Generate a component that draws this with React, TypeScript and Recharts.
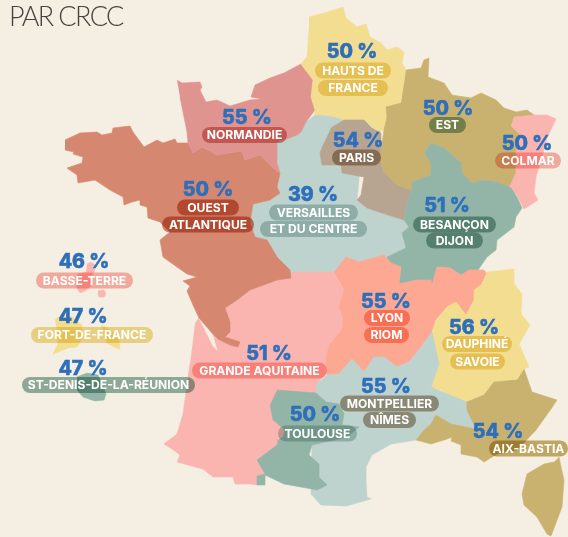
import { ReferenceArea, Scatter, ScatterChart, XAxis, YAxis } from "recharts"

type Pt = [number, number]

const WIDTH = 568
const HEIGHT = 537

const PAPER = "#f5eee2"
const PINK = "#fbb5b0"
const ROSE = "#e09490"
const TERRA = "#d68770"
const YELLOW = "#f2dd90"
const TAN = "#c9b26f"
const TAUPE = "#b8a591"
const TEAL = "#93b5a8"
const MIST = "#bed2ce"
const CORAL = "#fca892"

// region outlines in map units
const normandie: Pt[] = [[177,80],[182,83],[200,82],[202,87],[200,90],[206,102],[217,100],[230,106],[250,100],[262,99],[251,97],[255,85],[270,78],[284,73],[301,64],[313,80],[311,97],[315,110],[306,122],[301,132],[297,135],[284,140],[277,142],[277,163],[280,173],[272,167],[260,155],[245,160],[242,151],[217,155],[202,147],[193,153],[188,143],[187,132],[180,97]]
const ouest: Pt[] = [[65,140],[80,133],[97,132],[102,135],[112,133],[113,128],[130,126],[133,132],[144,147],[157,140],[163,143],[175,139],[177,143],[188,143],[193,153],[202,147],[217,155],[242,151],[245,160],[260,155],[272,167],[280,173],[277,187],[280,193],[270,200],[253,204],[250,223],[255,237],[267,240],[277,257],[290,270],[291,278],[277,280],[250,290],[237,300],[225,308],[230,322],[230,332],[225,337],[240,342],[238,347],[230,345],[218,339],[212,333],[199,318],[193,305],[187,291],[190,286],[183,281],[197,277],[187,274],[177,267],[163,257],[160,240],[170,232],[160,222],[148,218],[147,207],[140,205],[140,200],[132,202],[124,205],[123,197],[110,190],[95,180],[78,183],[77,175],[67,168],[82,163],[83,157],[73,154],[74,152],[65,150]]
const aquitaine: Pt[] = [[195,324],[199,318],[225,308],[250,285],[284,275],[294,272],[334,272],[344,290],[339,307],[343,317],[342,330],[329,345],[326,359],[329,370],[316,385],[316,394],[284,392],[270,405],[273,420],[285,430],[283,437],[278,440],[277,445],[257,460],[265,474],[257,476],[257,485],[250,484],[235,484],[233,477],[213,477],[203,469],[177,462],[180,455],[172,449],[164,444],[177,434],[183,414],[190,364]]
const gironde: Pt[] = [[199,319],[204,320],[213,336],[217,350],[213,346],[205,330]]
const versailles: Pt[] = [[277,142],[284,140],[297,135],[302,122],[306,122],[315,115],[324,115],[336,117],[344,120],[364,125],[357,200],[367,208],[394,217],[404,220],[409,227],[402,233],[406,248],[387,257],[391,270],[334,275],[290,278],[290,270],[277,257],[267,240],[255,237],[250,223],[253,204],[270,200],[280,193],[277,187],[280,173],[277,163]]
const hauts: Pt[] = [[309,17],[324,13],[343,7],[346,18],[357,27],[366,24],[370,37],[381,43],[387,50],[397,47],[404,52],[402,63],[406,70],[401,103],[386,107],[387,117],[384,130],[379,132],[364,120],[344,120],[336,117],[324,115],[315,115],[315,110],[311,97],[313,80],[301,64],[307,57],[309,30]]
const paris: Pt[] = [[331,128],[344,120],[364,120],[372,128],[381,133],[381,150],[381,163],[384,172],[397,185],[412,190],[407,203],[404,220],[394,217],[367,208],[357,200],[361,195],[364,177],[342,173],[341,165],[322,165],[320,153],[324,143]]
const est: Pt[] = [[406,70],[421,68],[424,60],[429,58],[428,77],[444,83],[452,95],[471,98],[481,93],[496,100],[504,108],[516,112],[527,110],[534,115],[532,122],[514,118],[511,126],[521,135],[516,153],[516,173],[511,188],[497,182],[484,180],[471,183],[462,172],[461,163],[444,148],[431,143],[424,153],[431,163],[431,175],[412,182],[412,190],[397,185],[384,172],[381,163],[381,150],[384,130],[387,117],[386,107],[401,103]]
const colmar: Pt[] = [[514,117],[534,115],[547,115],[556,119],[547,138],[542,157],[536,177],[534,193],[538,200],[524,209],[517,195],[509,188],[516,173],[516,153],[521,135],[511,126]]
const besancon: Pt[] = [[431,143],[444,148],[461,163],[462,172],[471,183],[484,180],[497,182],[511,188],[517,197],[522,208],[516,217],[514,227],[497,240],[496,250],[487,257],[478,270],[472,272],[461,275],[450,268],[437,267],[432,285],[417,280],[399,284],[401,267],[387,265],[387,257],[406,248],[402,233],[409,227],[404,220],[407,203],[412,190],[412,182],[431,175],[431,163],[424,153]]
const lyon: Pt[] = [[334,272],[336,270],[346,257],[359,262],[384,255],[391,263],[401,267],[399,284],[417,280],[431,280],[432,285],[437,267],[450,268],[461,275],[469,270],[484,270],[487,274],[481,285],[474,290],[474,300],[466,315],[456,302],[447,307],[436,320],[432,332],[421,347],[409,362],[397,367],[384,357],[374,357],[364,372],[352,359],[339,374],[327,375],[326,359],[329,345],[342,330],[343,317],[339,307],[344,290]]
const dauphine: Pt[] = [[487,272],[514,269],[514,284],[522,294],[521,314],[530,325],[519,344],[529,367],[524,369],[517,380],[494,382],[484,395],[467,402],[447,394],[441,390],[431,387],[439,364],[432,332],[436,320],[447,307],[456,302],[466,315],[474,300],[474,290],[481,285]]
const montpellier: Pt[] = [[316,385],[327,375],[339,374],[352,359],[364,372],[374,357],[384,357],[397,367],[409,362],[421,347],[432,332],[439,364],[431,387],[447,394],[467,402],[467,410],[476,429],[451,424],[436,415],[431,424],[424,430],[416,440],[391,444],[372,455],[366,467],[366,480],[367,497],[371,499],[346,506],[321,505],[311,494],[312,445],[316,393]]
const toulouse: Pt[] = [[277,390],[316,393],[326,402],[339,404],[344,414],[342,425],[359,427],[347,437],[312,445],[309,455],[319,464],[319,477],[327,485],[317,490],[312,489],[284,484],[265,475],[265,485],[257,485],[257,476],[265,474],[257,460],[277,445],[278,440],[283,437],[285,430],[273,420],[270,405]]
const aix: Pt[] = [[524,369],[532,392],[557,400],[551,409],[536,430],[517,450],[497,454],[484,462],[477,457],[461,454],[461,445],[451,441],[452,437],[447,439],[431,444],[416,440],[424,430],[431,424],[436,415],[451,424],[476,429],[467,410],[467,402],[484,395],[494,382],[517,380]]
const corse: Pt[] = [[559,457],[561,467],[564,480],[562,507],[551,536],[547,534],[537,517],[524,505],[522,494],[527,474],[544,464],[554,462]]
const basseTerre: Pt[] = [[87,264],[91,262],[95,265],[94,272],[92,276],[90,287],[85,291],[80,293],[77,288],[76,282],[78,274],[86,272]]
const basseTerreIsle: Pt[] = [[98,291],[104,290],[106,294],[104,297],[99,297],[98,294]]
const martiniqueWest: Pt[] = [[55,320],[62,314],[72,317],[82,325],[81,340],[77,347],[68,348],[53,354],[58,344],[57,330]]
const martiniqueEast: Pt[] = [[101,325],[107,328],[113,333],[119,340],[120,349],[114,347],[107,343],[104,335]]
const reunion: Pt[] = [[77,377],[87,373],[98,375],[106,394],[104,400],[95,401],[83,397],[77,390]]

const shapes: [Pt[], string][] = [
  [versailles, MIST], [aquitaine, PINK], [gironde, PAPER], [ouest, TERRA], [normandie, ROSE],
  [hauts, YELLOW], [paris, TAUPE], [est, TAN], [colmar, PINK], [besancon, TEAL], [lyon, CORAL],
  [dauphine, YELLOW], [montpellier, MIST], [toulouse, TEAL], [aix, TAN], [corse, TAN],
  [basseTerre, PINK], [basseTerreIsle, PINK],
  [martiniqueWest, YELLOW], [martiniqueEast, YELLOW], [reunion, TEAL],
]

// the rates
const rateLabels = ["55 %","50 %","50 %","50 %","54 %","39 %","50 %","51 %","46 %","47 %","47 %","51 %","55 %","56 %","55 %","50 %","54 %"]
const rateX = [247,208,352,448,358,313,527,447,84,83,83,269,386,474,386,315,498]
const rateY = [117,189,51,108,140,194,143,205,261,316,368,353,301,327,386,414,431]

// name tags: text, left, right, middle
const tagNames = ["NORMANDIE","OUEST","ATLANTIQUE","HAUTS DE","FRANCE","EST","COLMAR","PARIS","VERSAILLES","ET DU CENTRE","BESANÇON","DIJON","BASSE-TERRE","FORT-DE-FRANCE","ST-DENIS-DE-LA-RÉUNION","GRANDE AQUITAINE","LYON","RIOM","DAUPHINÉ","SAVOIE","MONTPELLIER","NÎMES","TOULOUSE","AIX-BASTIA"]
const tagLeft = [202,177,162,315,318,429,495,332,269,260,413,426,36,31,22,192,364,364,442,450,340,363,278,489]
const tagRight = [287,239,254,391,388,466,561,381,358,367,496,483,133,153,195,327,410,409,512,505,439,416,357,568]
const tagY = [135,207.5,224.5,70.5,88,125,160.5,157.5,212.5,229,224.5,240.5,280.5,335,385,370.5,318,335,344,361.5,403.5,420,433.5,448.5]
const tagColors = [ROSE,TERRA,TERRA,YELLOW,YELLOW,TEAL,PINK,TAUPE,MIST,MIST,TEAL,TEAL,PINK,YELLOW,TEAL,PINK,CORAL,CORAL,YELLOW,YELLOW,TAUPE,TAUPE,MIST,TAN]

const rates = rateLabels.map((label, i) => ({ x: rateX[i], y: rateY[i], label }))
const tags = tagNames.map((label, i) => ({
  x: (tagLeft[i] + tagRight[i]) / 2,
  y: tagY[i],
  label,
  w: tagRight[i] - tagLeft[i],
  color: tagColors[i],
}))

const FONT = "Inter, 'Noto Sans', sans-serif"

function Nothing() {
  return null
}

function Pill({ cx, cy, payload }: any) {
  return (
    <rect
      x={cx - payload.w / 2}
      y={cy - 8}
      width={payload.w}
      height={16}
      rx={8}
      fill={payload.color}
      style={{ mixBlendMode: "multiply" }}
    />
  )
}

function TagText({ cx, cy, payload }: any) {
  return (
    <text x={cx} y={cy + 4.4} textAnchor="middle" fill="#fff" fontFamily={FONT} fontSize={12.1} fontWeight={700}>
      {payload.label}
    </text>
  )
}

function RateText({ cx, cy, payload }: any) {
  return (
    <text
      x={cx}
      y={cy + 7}
      textAnchor="middle"
      fill="#2e6fbb"
      stroke="#2e6fbb"
      strokeWidth={0.5}
      fontFamily={FONT}
      fontSize={19.5}
      fontWeight={800}
    >
      {payload.label}
    </text>
  )
}

function TitleText({ cx, cy }: any) {
  return (
    <text x={cx} y={cy} fill="#45423f" fontFamily="Lato, sans-serif" fontSize={27} fontWeight={300} letterSpacing={-1.6}>
      PAR CRCC
    </text>
  )
}

export default function App() {
  return (
    <div style={{ position: "absolute", left: 0, top: 0, width: WIDTH, height: HEIGHT, background: PAPER, overflow: "hidden" }}>
      <ScatterChart width={WIDTH} height={HEIGHT} margin={{ top: 0, right: 0, bottom: 0, left: 0 }}>
        <XAxis type="number" dataKey="x" domain={[0, WIDTH]} hide />
        <YAxis type="number" dataKey="y" domain={[0, HEIGHT]} reversed hide />
        <ReferenceArea x1={0} x2={WIDTH} y1={0} y2={HEIGHT} fill={PAPER} fillOpacity={1} stroke="none" />
        {shapes.map(([outline, color], i) => (
          <Scatter
            key={i}
            data={outline.map(([x, y]) => ({ x, y }))}
            line={{ fill: color, stroke: color, strokeWidth: 0.6 }}
            shape={Nothing}
            isAnimationActive={false}
          />
        ))}
        <Scatter data={tags} shape={Pill} isAnimationActive={false} />
        <Scatter data={tags} shape={TagText} isAnimationActive={false} />
        <Scatter data={rates} shape={RateText} isAnimationActive={false} />
        <Scatter data={[{ x: 9, y: 26 }]} shape={TitleText} isAnimationActive={false} />
      </ScatterChart>
    </div>
  )
}
